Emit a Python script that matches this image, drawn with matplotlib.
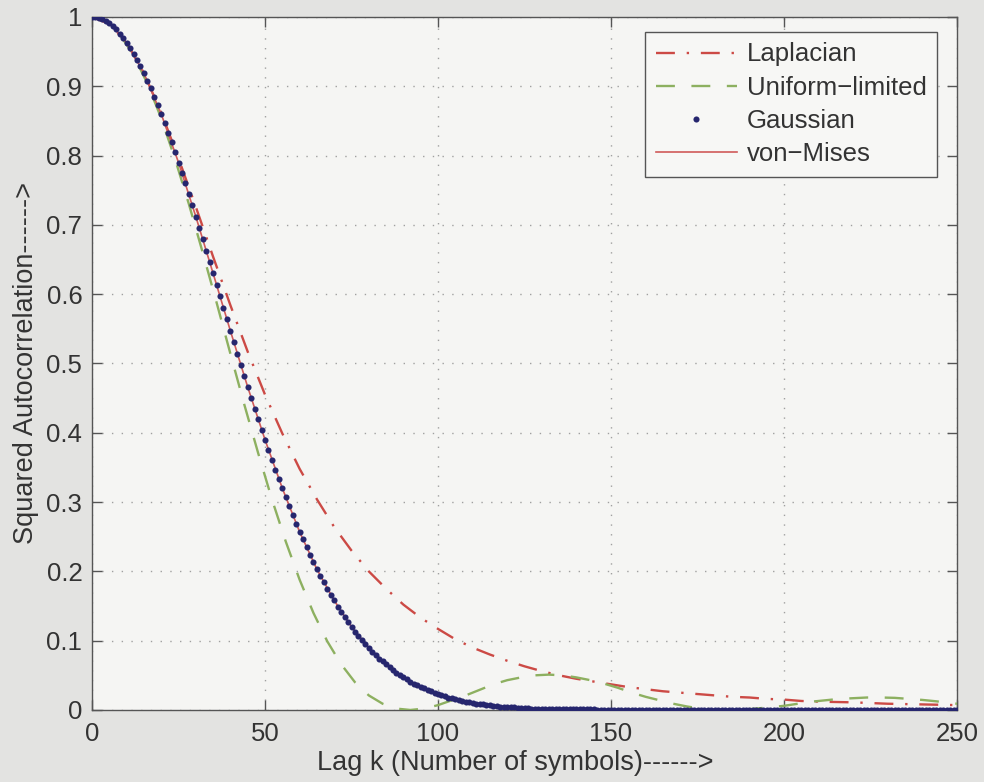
import numpy as np
import matplotlib
matplotlib.use("Agg")
import matplotlib.pyplot as plt

# ---- data -----------------------------------------------------------------
# Laplacian model (dash-dot), sampled every 5 symbols
lap_k = list(range(0, 251, 5))
lap_vals = [1.000, 0.990, 0.963, 0.919, 0.862, 0.796, 0.726, 0.654, 0.584, 0.517,
            0.455, 0.399, 0.348, 0.304, 0.264, 0.230, 0.200, 0.175, 0.152, 0.133,
            0.117, 0.102, 0.090, 0.080, 0.071, 0.063, 0.056, 0.050, 0.045, 0.041,
            0.037, 0.033, 0.030, 0.027, 0.025, 0.023, 0.021, 0.019, 0.018, 0.016,
            0.015, 0.013, 0.012, 0.0115, 0.011, 0.010, 0.009, 0.0085, 0.008, 0.0075,
            0.007]

# Uniform-limited model (dashed), sampled every 4 symbols plus the end point
uni_k = list(range(0, 249, 4)) + [250]
uni_vals = [1.000, 0.994, 0.975, 0.945, 0.904, 0.854, 0.795, 0.730, 0.660, 0.588,
            0.514, 0.441, 0.371, 0.304, 0.243, 0.188, 0.140, 0.099, 0.066, 0.040,
            0.021, 0.009, 0.002, 0.000, 0.002, 0.007, 0.014, 0.021, 0.029, 0.037,
            0.043, 0.047, 0.050, 0.051, 0.050, 0.047, 0.043, 0.038, 0.032, 0.025,
            0.019, 0.014, 0.009, 0.005, 0.002, 0.0005, 0.000, 0.0005, 0.002, 0.004,
            0.006, 0.009, 0.012, 0.014, 0.016, 0.017, 0.018, 0.018, 0.0175, 0.016,
            0.0145, 0.0125, 0.010, 0.009]

# Gaussian model (dots), one sample per symbol lag, k = 0..250
gauss_k = list(range(0, 251))
gauss_vals = [
    1.000, 1.000, 0.998, 0.997, 0.994, 0.991, 0.987, 0.982, 0.976, 0.970,
    0.963, 0.955, 0.947, 0.938, 0.929, 0.919, 0.908, 0.897, 0.885, 0.873,
    0.860, 0.847, 0.833, 0.819, 0.805, 0.790, 0.775, 0.760, 0.744, 0.728,
    0.712, 0.696, 0.680, 0.663, 0.647, 0.630, 0.613, 0.597, 0.580, 0.564,
    0.547, 0.531, 0.514, 0.498, 0.482, 0.466, 0.450, 0.435, 0.420, 0.404,
    0.390, 0.375, 0.361, 0.347, 0.333, 0.320, 0.307, 0.294, 0.281, 0.269,
    0.257, 0.246, 0.235, 0.224, 0.213, 0.203, 0.194, 0.184, 0.175, 0.166,
    0.158, 0.149, 0.142, 0.134, 0.127, 0.120, 0.113, 0.107, 0.101, 0.095,
    0.090, 0.084, 0.079, 0.074, 0.070, 0.066, 0.062, 0.058, 0.054, 0.050,
    0.047, 0.044, 0.041, 0.038, 0.036, 0.033, 0.031, 0.029, 0.027, 0.025,
    0.023, 0.021, 0.020, 0.018, 0.017, 0.016, 0.014, 0.013, 0.012, 0.011,
    0.010, 0.009, 0.009, 0.008, 0.007, 0.007, 0.006, 0.006, 0.005, 0.005,
    0.004, 0.004, 0.004, 0.003, 0.003, 0.003, 0.003, 0.002, 0.002, 0.002,
    0.002, 0.001, 0.001, 0.001, 0.001, 0.001, 0.001, 0.001, 0.001, 0.001,
    0.001, 0.001, 0.001, 0.001, 0.001, 0.001, 0.000, 0.000, 0.000, 0.000,
    0.000, 0.000, 0.000, 0.000, 0.000, 0.000, 0.000, 0.000, 0.000, 0.000,
    0.000, 0.000, 0.000, 0.000, 0.000, 0.000, 0.000, 0.000, 0.000, 0.000,
    0.000, 0.000, 0.000, 0.000, 0.000, 0.000, 0.000, 0.000, 0.000, 0.000,
    0.000, 0.000, 0.000, 0.000, 0.000, 0.000, 0.000, 0.000, 0.000, 0.000,
    0.000, 0.000, 0.000, 0.000, 0.000, 0.000, 0.000, 0.000, 0.000, 0.000,
    0.000, 0.000, 0.000, 0.000, 0.000, 0.000, 0.000, 0.000, 0.000, 0.000,
    0.000, 0.000, 0.000, 0.000, 0.000, 0.000, 0.000, 0.000, 0.000, 0.000,
    0.000, 0.000, 0.000, 0.000, 0.000, 0.000, 0.000, 0.000, 0.000, 0.000,
    0.000, 0.000, 0.000, 0.000, 0.000, 0.000, 0.000, 0.000, 0.000, 0.000,
    0.000, 0.000, 0.000, 0.000, 0.000, 0.000, 0.000, 0.000, 0.000, 0.000,
    0.000,
]

# von-Mises model (solid), sampled every 5 symbols
vm_k = list(range(0, 251, 5))
vm_vals = [1.000, 0.991, 0.963, 0.919, 0.860, 0.790, 0.712, 0.630, 0.547, 0.466,
           0.390, 0.320, 0.257, 0.203, 0.158, 0.120, 0.090, 0.066, 0.047, 0.033,
           0.023, 0.016, 0.010, 0.007, 0.004, 0.003, 0.002, 0.001, 0.001, 0.001,
           0.000, 0.000, 0.000, 0.000, 0.000, 0.000, 0.000, 0.000, 0.000, 0.000,
           0.000, 0.000, 0.000, 0.000, 0.000, 0.000, 0.000, 0.000, 0.000, 0.000,
           0.000]

x_ticks = [0, 50, 100, 150, 200, 250]
y_ticks = [0, 0.1, 0.2, 0.3, 0.4, 0.5, 0.6, 0.7, 0.8, 0.9, 1]
y_tick_labels = ["0", "0.1", "0.2", "0.3", "0.4", "0.5", "0.6", "0.7", "0.8", "0.9", "1"]

# ---- styling --------------------------------------------------------------
plt.rcParams["font.family"] = ["Liberation Sans", "DejaVu Sans"]
TEXT = "#333333"
FS = 18.5
LABEL_FS = 19.5

fig = plt.figure(figsize=(9.84, 7.82), dpi=100, facecolor="#e3e3e1")
ax = fig.add_axes([0.0935, 0.0921, 0.8791, 0.8862])
ax.set_facecolor("#f5f5f3")

ax.plot(lap_k, lap_vals, color="#cc4a45", lw=1.7,
        linestyle=(0, (8, 5, 1, 5)), label="Laplacian", zorder=3)
ax.plot(uni_k, uni_vals, color="#8db060", lw=1.7,
        linestyle=(0, (8, 7)), label="Uniform\u2212limited", zorder=3)
ax.plot(gauss_k, gauss_vals, linestyle="none", marker="o", ms=4.4, mew=0,
        color="#26266e", label="Gaussian", zorder=4)
ax.plot(vm_k, vm_vals, color="#d05a5a", lw=1.2, label="von\u2212Mises", zorder=3.5)

ax.set_xlim(0, 250)
ax.set_ylim(0, 1)
ax.set_xticks(x_ticks)
ax.set_yticks(y_ticks)
ax.set_yticklabels(y_tick_labels)

ax.grid(True, color="#a0a0a0", linestyle=(0, (1, 6)), lw=1.0)
ax.set_axisbelow(True)

ax.tick_params(direction="in", length=7, width=1.0, color="#555555",
               top=True, right=True, labelsize=FS, labelcolor=TEXT, pad=7)
ax.tick_params(axis="x", pad=9)
for sp in ax.spines.values():
    sp.set_color("#555555")
    sp.set_linewidth(1.0)

ax.set_xlabel("Lag k (Number of symbols)------>", fontsize=LABEL_FS, color=TEXT)
ax.xaxis.set_label_coords(0.489, -0.058)
ax.set_ylabel("Squared Autocorrelation------>", fontsize=LABEL_FS, color=TEXT, labelpad=5)

leg = ax.legend(loc="upper right", bbox_to_anchor=(0.977, 0.978), borderaxespad=0,
                fontsize=FS, handlelength=3.15, handletextpad=0.4, labelspacing=0.36,
                borderpad=0.4, fancybox=False, framealpha=1, edgecolor="#555555",
                facecolor="#f7f7f5")
leg.get_frame().set_linewidth(1.0)
for t in leg.get_texts():
    t.set_color(TEXT)

fig.savefig("out.png", dpi=100, facecolor=fig.get_facecolor())
